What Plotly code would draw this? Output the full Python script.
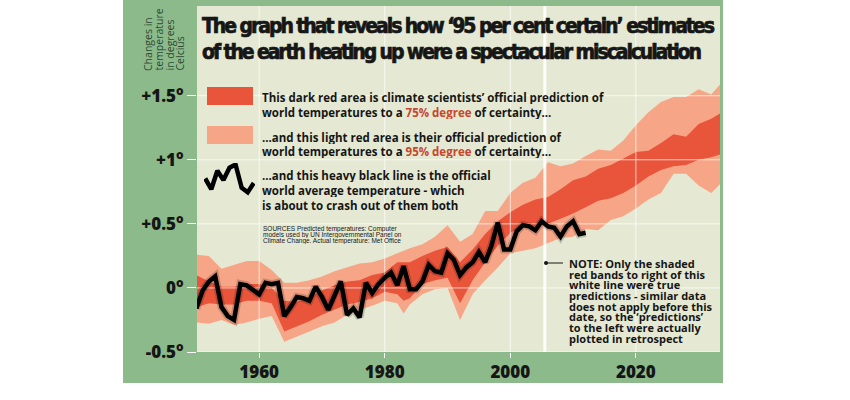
import plotly.graph_objects as go

# observed annual temperature (heavy black line)
obs_years = list(range(1950, 2013))
obs_temp = [-0.16, -0.02, 0.05, 0.09, -0.15, -0.22, -0.25, 0.03, 0.02, -0.02,
            -0.05, 0.04, 0.03, 0.04, -0.22, -0.15, -0.07, -0.08, -0.10, 0.01,
            -0.07, -0.17, -0.05, 0.05, -0.21, -0.16, -0.23, 0.04, -0.04, 0.03,
            0.08, 0.12, 0.02, 0.17, -0.01, -0.01, 0.05, 0.18, 0.13, 0.12,
            0.27, 0.22, 0.10, 0.16, 0.20, 0.28, 0.20, 0.33, 0.51, 0.30,
            0.30, 0.44, 0.49, 0.48, 0.45, 0.52, 0.48, 0.47, 0.40, 0.48,
            0.52, 0.42, 0.43]

# model prediction bands
band_years = [1950, 1952, 1954, 1956, 1958, 1960, 1962, 1964, 1966, 1968,
              1970, 1972, 1974, 1976, 1978, 1980, 1982, 1983, 1984, 1986,
              1988, 1990, 1992, 1994, 1996, 1998, 2000, 2002, 2004, 2006,
              2008, 2010, 2012, 2014, 2016, 2018, 2020, 2022, 2024, 2026,
              2028, 2030, 2032, 2034]
light_upper = [0.26, 0.25, 0.15, 0.18, 0.21, 0.21, 0.14, 0.04, 0.04, 0.06,
               0.09, 0.13, 0.16, 0.19, 0.20, 0.23, 0.27, 0.29, 0.31, 0.34,
               0.40, 0.49, 0.36, 0.42, 0.60, 0.60, 0.74, 0.82, 0.86, 0.98,
               0.95, 0.97, 1.03, 1.08, 1.07, 1.15, 1.27, 1.37, 1.45, 1.49,
               1.49, 1.55, 1.51, 1.62]
light_lower = [-0.27, -0.28, -0.25, -0.29, -0.27, -0.24, -0.22, -0.42, -0.38, -0.34,
               -0.30, -0.27, -0.21, -0.17, -0.14, -0.10, -0.12, -0.20, -0.13, -0.05,
               -0.01, 0.00, -0.25, -0.05, 0.06, 0.16, 0.27, 0.29, 0.31, 0.35,
               0.39, 0.40, 0.46, 0.45, 0.53, 0.56, 0.62, 0.69, 0.74, 0.89,
               0.89, 0.80, 0.74, 0.84]
dark_upper = [0.10, 0.05, 0.01, 0.01, 0.03, 0.03, 0.00, -0.10, -0.11, -0.07,
              -0.02, 0.02, 0.05, 0.06, 0.10, 0.12, 0.20, 0.20, 0.20, 0.25,
              0.29, 0.32, 0.20, 0.30, 0.42, 0.52, 0.59, 0.65, 0.69, 0.71,
              0.77, 0.84, 0.87, 0.93, 0.96, 1.01, 1.06, 1.07, 1.13, 1.20,
              1.18, 1.28, 1.32, 1.38]
dark_lower = [-0.15, -0.12, -0.13, -0.13, -0.10, -0.10, -0.12, -0.34, -0.30, -0.26,
              -0.21, -0.17, -0.13, -0.11, -0.08, -0.03, -0.05, -0.10, -0.08, 0.03,
              0.06, 0.08, -0.12, 0.06, 0.20, 0.33, 0.43, 0.48, 0.48, 0.50,
              0.54, 0.58, 0.63, 0.68, 0.70, 0.74, 0.80, 0.87, 0.92, 0.95,
              0.96, 1.00, 1.02, 1.05]

x_ticks = [1960, 1980, 2000, 2020]
y_ticks = [-0.5, 0, 0.5, 1, 1.5]
y_tick_labels = ["-0.5<sup>o</sup>", "0<sup>o</sup>", "+0.5<sup>o</sup>",
                 "+1<sup>o</sup>", "+1.5<sup>o</sup>"]
forecast_start = 2005.5

# squiggle used as the legend key for the black line
legend_wiggle = [0.55, 0.2, 0.8, 0.5, 0.9, 1.0, 0.25, 0.1, 0.4]

X_RANGE = [1950.1, 2033.4]
Y_RANGE = [-0.5, 2.2]

GREEN = "#8dba8b"
BEIGE = "#e5e9d3"
DARK_RED = "#e8553b"
LIGHT_RED = "#f7a587"
ORANGE_TXT = "#c8462a"
INK = "#161616"

# pixel -> paper helpers (plot area is 197..720 x 6..352)
PL, PR, PT, PB = 197, 720, 6, 352


def px(x):
    return (x - PL) / (PR - PL)


def py(y):
    return (PB - y) / (PB - PT)


fig = go.Figure()

fig.add_trace(go.Scatter(
    x=band_years + band_years[::-1], y=light_upper + light_lower[::-1],
    fill="toself", fillcolor=LIGHT_RED, line=dict(width=0),
    mode="lines", hoverinfo="skip", showlegend=False))
fig.add_trace(go.Scatter(
    x=band_years + band_years[::-1], y=dark_upper + dark_lower[::-1],
    fill="toself", fillcolor=DARK_RED, line=dict(width=0),
    mode="lines", hoverinfo="skip", showlegend=False))

# grid lines drawn over the bands
gx, gy = [], []
for t in x_ticks:
    gx += [t, t, None]
    gy += [Y_RANGE[0], Y_RANGE[1], None]
for t in y_ticks:
    gx += [X_RANGE[0], X_RANGE[1], None]
    gy += [t, t, None]
fig.add_trace(go.Scatter(x=gx, y=gy, mode="lines",
                         line=dict(color="rgba(255,255,255,0.7)", width=1),
                         hoverinfo="skip", showlegend=False))

# white line marking where true predictions begin
fig.add_trace(go.Scatter(x=[forecast_start, forecast_start], y=Y_RANGE, mode="lines",
                         line=dict(color="rgba(255,255,255,0.9)", width=3),
                         hoverinfo="skip", showlegend=False))

# observed temperature, with a soft shadow
fig.add_trace(go.Scatter(x=obs_years, y=obs_temp, mode="lines",
                         line=dict(color="rgba(0,0,0,0.18)", width=8),
                         hoverinfo="skip", showlegend=False))
fig.add_trace(go.Scatter(x=obs_years, y=obs_temp, mode="lines",
                         line=dict(color="#000000", width=4.5),
                         name="Met Office", showlegend=False))

# legend squiggle in a tiny inset axis
fig.add_trace(go.Scatter(x=list(range(len(legend_wiggle))), y=legend_wiggle,
                         mode="lines", line=dict(color="#000000", width=4.5),
                         xaxis="x2", yaxis="y2", hoverinfo="skip", showlegend=False))

shapes = [
    dict(type="rect", xref="paper", yref="paper", layer="below",
         x0=px(123), x1=px(723), y0=py(383), y1=py(0),
         fillcolor=GREEN, line=dict(width=0)),
    dict(type="rect", xref="paper", yref="paper", layer="below",
         x0=0, x1=1, y0=0, y1=1, fillcolor=BEIGE, line=dict(width=0)),
    # legend swatches
    dict(type="rect", xref="paper", yref="paper",
         x0=px(207), x1=px(253), y0=py(105), y1=py(87),
         fillcolor=DARK_RED, line=dict(width=0)),
    dict(type="rect", xref="paper", yref="paper",
         x0=px(207), x1=px(253), y0=py(144), y1=py(126),
         fillcolor=LIGHT_RED, line=dict(width=0)),
    # note pointer
    dict(type="line", xref="paper", yref="paper",
         x0=px(546), x1=px(563), y0=py(263), y1=py(263),
         line=dict(color=INK, width=1)),
    dict(type="circle", xref="paper", yref="paper",
         x0=px(544), x1=px(548), y0=py(265), y1=py(261),
         fillcolor=INK, line=dict(width=0)),
]

TITLE_FONT = dict(family="DejaVu Sans Condensed, DejaVu Sans, sans-serif",
                  size=21, color=INK, weight="bold")
TEXT_FONT = dict(family="Open Sans, sans-serif", size=11.5, color=INK, weight="bold")


def heavy(s, spacing):
    # squeeze and thicken the title to mimic a heavy condensed headline face
    return ("<span style='letter-spacing:" + spacing + ";stroke:" + INK +
            ";stroke-width:0.7px'>" + s + "</span>")


annotations = [
    dict(text=heavy("The graph that reveals how ‘95 per cent certain’ estimates", "-2.05px"),
         x=px(200), y=py(26), font=TITLE_FONT),
    dict(text=heavy("of the earth heating up were a spectacular miscalculation", "-2.1px"),
         x=px(200), y=py(52), font=TITLE_FONT),
]

axis_title_lines = ["Changes in", "temperature", "in degrees", "Celcius"]
for i, txt in enumerate(axis_title_lines):
    annotations.append(dict(text=txt, x=px(148 + i * 10.5), y=py(73),
                            xanchor="center", yanchor="bottom", textangle=-90,
                            font=dict(family="Open Sans, sans-serif", size=10.5, color="#2c4a34")))


def hl(s):
    return "<span style='color:" + ORANGE_TXT + "'>" + s + "</span>"


legend_lines = [
    ("This dark red area is climate scientists’ official prediction of", 97),
    ("world temperatures to a " + hl("75% degree") + " of certainty...", 112),
    ("...and this light red area is their official prediction of", 137),
    ("world temperatures to a " + hl("95% degree") + " of certainty...", 151),
    ("...and this heavy black line is the official", 175),
    ("world average temperature - which", 190),
    ("is about to crash out of them both", 205),
]
for txt, yy in legend_lines:
    annotations.append(dict(text=txt, x=px(260), y=py(yy), height=14, font=TEXT_FONT))

sources_lines = [
    ("SOURCES Predicted temperatures: Computer", 229),
    ("models used by UN Intergovernmental Panel on", 235),
    ("Climate Change. Actual temperature: Met Office", 241),
]
for txt, yy in sources_lines:
    annotations.append(dict(text=txt, x=px(261), y=py(yy), height=6,
                            font=dict(family="Liberation Sans, Arial, sans-serif", size=6.5, color=INK)))

note_lines = [
    "NOTE: Only the shaded",
    "red bands to right of this",
    "white line were true",
    "predictions - similar data",
    "does not apply before this",
    "date, so the ‘predictions’",
    "to the left were actually",
    "plotted in retrospect",
]
for i, txt in enumerate(note_lines):
    annotations.append(dict(text=txt, x=px(567), y=py(263.3 + i * 10.7),
                            font=dict(family="Open Sans, sans-serif", size=11, color=INK, weight="bold")))

for a in annotations:
    a.setdefault("xref", "paper")
    a.setdefault("yref", "paper")
    a.setdefault("xanchor", "left")
    a.setdefault("yanchor", "middle")
    a.setdefault("showarrow", False)

TICK_FONT = dict(family="Open Sans, sans-serif", size=17, color=INK, weight=800)

fig.update_layout(
    width=850, height=400,
    margin=dict(l=PL, r=850 - PR, t=PT, b=400 - PB),
    paper_bgcolor="white",
    plot_bgcolor="rgba(0,0,0,0)",
    showlegend=False,
    shapes=shapes,
    annotations=annotations,
    xaxis=dict(range=X_RANGE, tickvals=x_ticks, showgrid=False, zeroline=False,
               ticks="outside", ticklen=5, tickcolor="white", tickwidth=1,
               tickfont=TICK_FONT, showline=False),
    yaxis=dict(range=Y_RANGE, tickvals=y_ticks, ticktext=y_tick_labels,
               showgrid=False, zeroline=False,
               ticks="outside", ticklen=9, tickcolor="white", tickwidth=1,
               tickfont=TICK_FONT, showline=False),
    xaxis2=dict(domain=[px(204), px(255)], range=[-0.2, 8.2], visible=False, anchor="y2"),
    yaxis2=dict(domain=[py(197), py(163)], range=[-0.05, 1.05], visible=False, anchor="x2"),
)

# drop the default page margin so the figure sits at the window's corner
fig.write_html("out.html", config={"displayModeBar": False},
               post_script="document.body.style.margin='0';")
